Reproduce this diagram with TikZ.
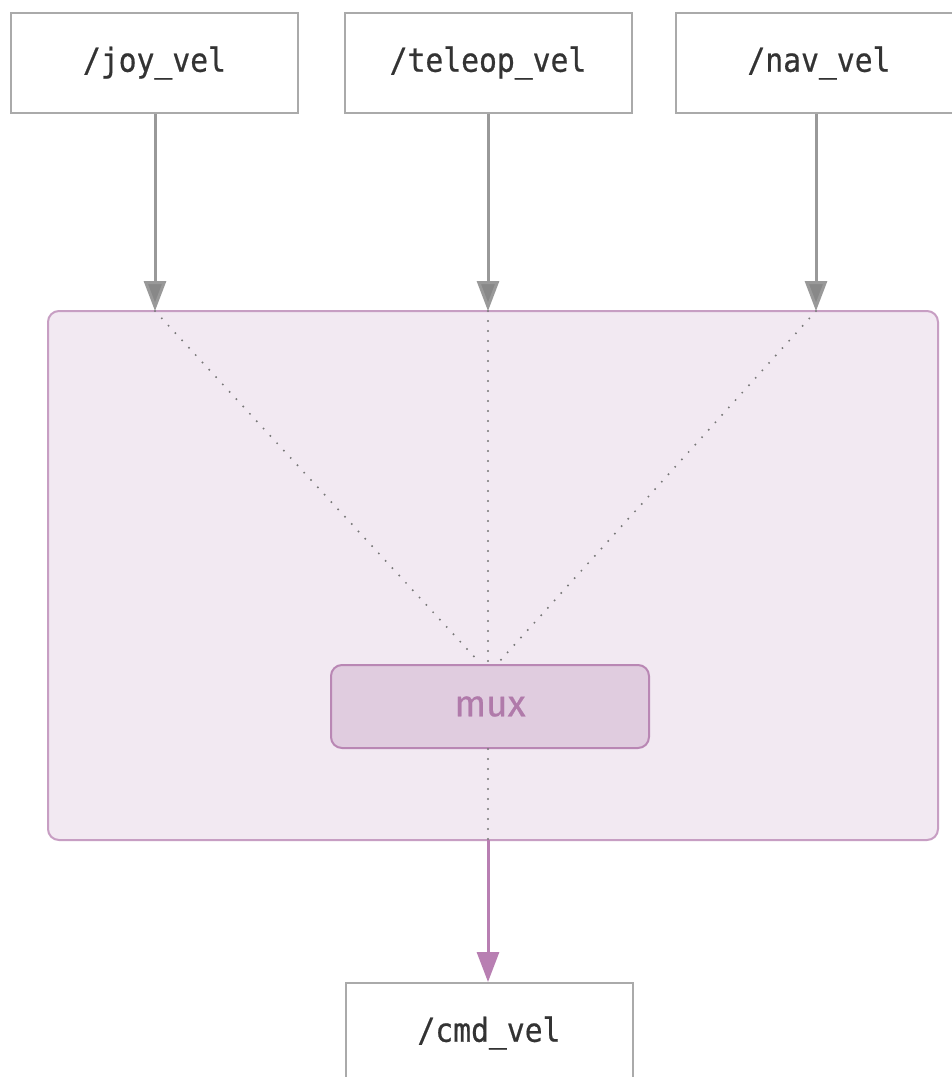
\documentclass[tikz,border=0pt]{standalone}
\usepackage{fontspec}
\usetikzlibrary{arrows.meta}
\newfontfamily\topicfont[FakeStretch=0.9,FakeBold=0.6]{DejaVu Sans Mono}
\newfontfamily\nodefont[FakeBold=0.6]{Fira Sans}
\definecolor{boxline}{HTML}{AAAAAA}
\definecolor{edgegray}{HTML}{999999}
\definecolor{tipgray}{HTML}{888888}
\definecolor{txt}{HTML}{333333}
\definecolor{grpfill}{HTML}{F2E9F2}
\definecolor{grpline}{HTML}{C79EC3}
\definecolor{muxfill}{HTML}{E0CCDF}
\definecolor{muxline}{HTML}{B987B4}
\definecolor{muxtext}{HTML}{B07AAA}
\definecolor{outline}{HTML}{B87FB2}
\definecolor{dotgray}{HTML}{777777}
\tikzset{
  topic/.style={draw=boxline, line width=2pt, fill=white, minimum width=287pt,
    minimum height=100pt, inner sep=0pt, text=txt,
    font=\topicfont\fontsize{33}{36}\selectfont},
  group/.style={draw=grpline, line width=2pt, fill=grpfill, rounded corners=11pt,
    minimum width=890pt, minimum height=529pt, inner sep=0pt},
  muxbox/.style={draw=muxline, line width=2pt, fill=muxfill, rounded corners=11pt,
    minimum width=318pt, minimum height=83pt, inner sep=0pt, text=muxtext,
    font=\nodefont\fontsize{37}{40}\selectfont},
  feed/.style={draw=edgegray, line width=3pt,
    -{Triangle[width=22pt,length=30pt,fill=tipgray]}},
  outflow/.style={draw=outline, line width=3pt,
    -{Triangle[width=22pt,length=30pt,fill=outline]}},
  route/.style={draw=dotgray, line width=2.2pt, line cap=round,
    dash pattern=on 0pt off 10pt},
}
\begin{document}
\begin{tikzpicture}[x=1pt,y=-1pt]
  \clip (0,0) rectangle (952,1077);
  \fill[white] (0,0) rectangle (952,1077);

  % input topics
  \node[topic] (joy)    at (154.5,63) {\raisebox{-2pt}{/joy\_vel}};
  \node[topic] (teleop) at (488,63)   {\raisebox{-2pt}{/teleop\_vel}};
  \node[topic] (nav)    at (819,63)   {\raisebox{-2pt}{/nav\_vel}};

  % multiplexer group
  \node[group] (grp) at (493,575.5) {};
  \node[muxbox] (mux) at (490,706.5) {mux};

  % entry points on the group border
  \coordinate (inJ) at (155,311);
  \coordinate (inT) at (488,311);
  \coordinate (inN) at (816,311);
  \coordinate (outC) at (488,840);

  % internal routing
  \draw[route] (inJ) -- (480,663);
  \draw[route] (inT) -- (488,663);
  \draw[route] (inN) -- (498,663);
  \draw[route] (mux.south -| outC) -- (outC);

  % output topic
  \node[topic] (cmd) at (489,1033) {\raisebox{-2pt}{/cmd\_vel}};

  % connectors
  \draw[feed] (joy.south -| inJ) -- (inJ);
  \draw[feed] (teleop.south -| inT) -- (inT);
  \draw[feed] (nav.south -| inN) -- (inN);
  \draw[outflow] (outC) -- (cmd.north -| outC);
\end{tikzpicture}
\end{document}
